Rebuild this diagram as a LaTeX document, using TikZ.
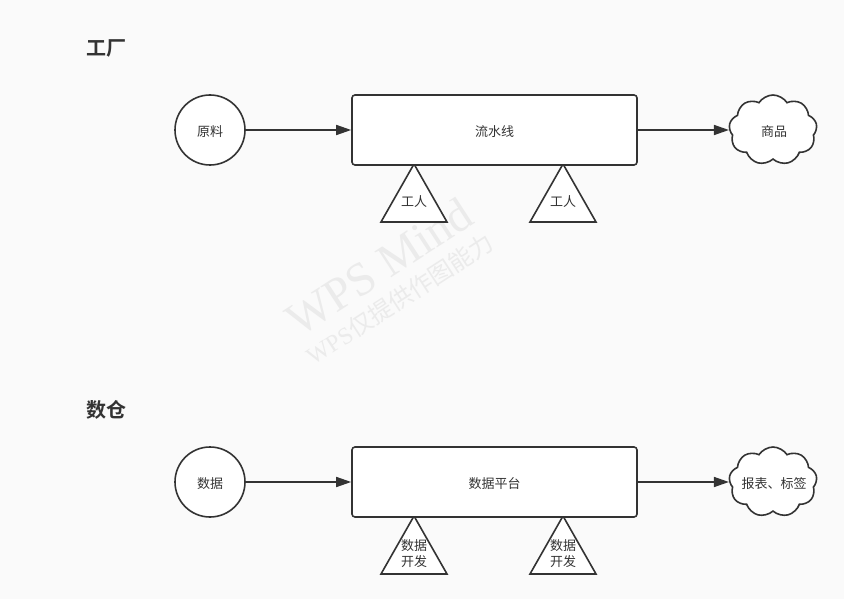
\documentclass[tikz,border=0pt]{standalone}
\usepackage{fontspec}
\setmainfont{Noto Sans CJK SC}
\newfontfamily\cjk{Noto Sans CJK SC}
\newfontfamily\cjkbold{Noto Sans CJK SC Bold}
\newfontfamily\wmserif{Liberation Serif}
\usetikzlibrary{shapes.symbols,arrows.meta}
\definecolor{ink}{HTML}{333333}
\definecolor{bg}{HTML}{FAFAFA}
\definecolor{wm}{HTML}{EBEBEB}
\tikzset{
  lbl/.style={font=\cjk\fontsize{13}{15}\selectfont, text=ink, align=center, inner sep=0pt},
  title/.style={font=\cjkbold\fontsize{20}{22}\selectfont, text=ink, inner sep=0pt},
  srcnode/.style={circle, draw=ink, line width=1.6pt, fill=white, minimum size=70pt, inner sep=0pt},
  procbox/.style={rectangle, rounded corners=3pt, draw=ink, line width=1.6pt, fill=white, minimum width=285pt, minimum height=70pt, inner sep=0pt},
  outcloud/.style={cloud, cloud puffs=9, cloud puff arc=115, aspect=1.3, draw=ink, line width=1.6pt, fill=white, minimum width=88pt, minimum height=70pt, inner sep=0pt},
  flow/.style={draw=ink, line width=1.6pt, -{Triangle[length=15pt,width=10pt]}},
  tri/.style={draw=ink, line width=1.6pt, fill=white, line join=miter},
}
\begin{document}
\begin{tikzpicture}[x=1pt,y=-1pt]
\fill[bg] (0,0) rectangle (844,599);
\useasboundingbox (0,0) rectangle (844,599);

% watermark
\node[font=\wmserif\fontsize{47}{49}\selectfont, text=wm, rotate=33] (wm1) at (379,267) {WPS Mind};
\node[font=\wmserif\fontsize{24}{26}\selectfont, text=wm, rotate=33] (wm2) at (400,299) {WPS{\cjk 仅提供作图能力}};

% ===== top: factory =====
\node[title, anchor=west] (t1) at (86,48) {工厂};
\draw[tri] (414,164) -- (447,222) -- (381,222) -- cycle;
\draw[tri] (563,164) -- (596,222) -- (530,222) -- cycle;
\node[srcnode] (raw) at (210,130) {};
\node[lbl] (rawl) at (210,132) {原料};
\node[procbox] (line) at (494.5,130) {};
\node[lbl] (linel) at (494.5,132) {流水线};
\node[outcloud] (goods) at (773,130) {};
\node[lbl] (goodsl) at (774,132) {商品};
\draw[flow] (raw) -- (line);
\draw[flow] (line) -- (goods.west);
\node[lbl] (w1) at (414,202) {工人};
\node[lbl] (w2) at (563,202) {工人};

% ===== bottom: data warehouse =====
\node[title, anchor=west] (t2) at (86,410) {数仓};
\draw[tri] (414,516) -- (447,574) -- (381,574) -- cycle;
\draw[tri] (563,516) -- (596,574) -- (530,574) -- cycle;
\node[srcnode] (data) at (210,482) {};
\node[lbl] (datal) at (210,484) {数据};
\node[procbox] (plat) at (494.5,482) {};
\node[lbl] (platl) at (494.5,484) {数据平台};
\node[outcloud] (rep) at (773,482) {};
\node[lbl] (repl) at (774,484) {报表、标签};
\draw[flow] (data) -- (plat);
\draw[flow] (plat) -- (rep.west);
\node[lbl, font=\cjk\fontsize{13}{16}\selectfont] (d1) at (414,554) {数据\\开发};
\node[lbl, font=\cjk\fontsize{13}{16}\selectfont] (d2) at (563,554) {数据\\开发};
\end{tikzpicture}
\end{document}
